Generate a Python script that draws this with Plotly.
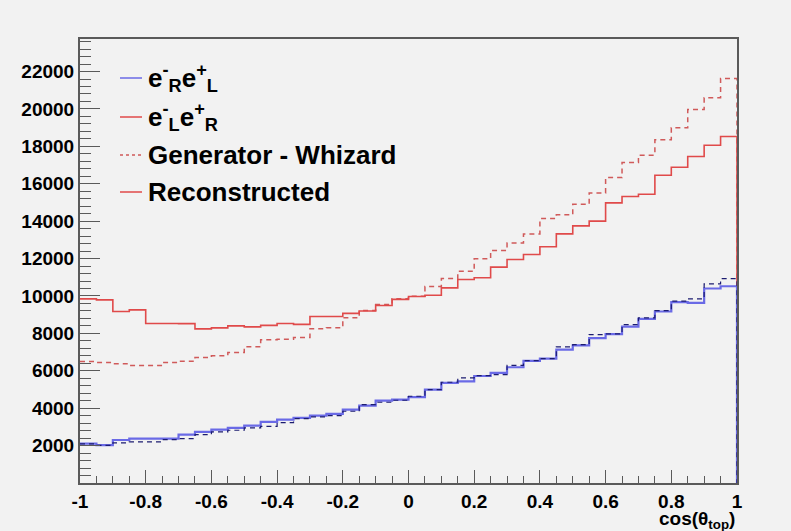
import plotly.graph_objects as go

# Histogram binning: 40 bins over cos(theta_top) in [-1, 1]
bin_low = -1.0
bin_width = 0.05
n_bins = 40

# e-_R e+_L : reconstructed (solid blue) and generator/Whizard (dashed dark blue)
reco_RL = [2100, 2030, 2300, 2370, 2370, 2370, 2588, 2731, 2856, 2945,
           3070, 3265, 3390, 3480, 3600, 3700, 3925, 4139, 4407, 4460,
           4595, 4995, 5351, 5430, 5720, 5890, 6190, 6530, 6645, 7134,
           7355, 7750, 7955, 8365, 8775, 9170, 9675, 9630, 10400, 10520]
gen_RL = [2090, 2010, 2144, 2198, 2198, 2321, 2375, 2588, 2731, 2820,
          2945, 3030, 3230, 3444, 3533, 3604, 3836, 4193, 4318, 4425,
          4638, 4995, 5386, 5620, 5744, 5797, 6290, 6545, 6653, 7277,
          7400, 7937, 7973, 8470, 8830, 9220, 9720, 9845, 10647, 10930]

# e-_L e+_R : reconstructed (solid red) and generator/Whizard (dashed red)
reco_LR = [9846, 9790, 9166, 9257, 8525, 8525, 8520, 8240, 8295, 8400,
           8350, 8430, 8525, 8480, 8900, 8900, 9070, 9200, 9490, 9820,
           9970, 10040, 10432, 10878, 10975, 11545, 11947, 12215, 12630, 13320,
           13750, 14000, 14980, 15316, 15440, 16456, 16884, 17456, 18060, 18526]
gen_LR = [6490, 6440, 6370, 6280, 6280, 6440, 6510, 6710, 6800, 6975,
          7280, 7660, 7680, 7780, 8250, 8300, 8830, 9220, 9540, 9850,
          9990, 10500, 10930, 11320, 11985, 12430, 12830, 13320, 14140, 14340,
          14905, 15510, 16330, 17135, 17530, 18350, 18990, 19970, 20600, 21630]

x_tickvals = [-1, -0.8, -0.6, -0.4, -0.2, 0, 0.2, 0.4, 0.6, 0.8, 1]
x_ticktext = ["-1", "-0.8", "-0.6", "-0.4", "-0.2", "0", "0.2", "0.4", "0.6", "0.8", "1"]
y_tickvals = [2000, 4000, 6000, 8000, 10000, 12000, 14000, 16000, 18000, 20000, 22000]
y_ticktext = [str(v) for v in y_tickvals]

legend_labels = ["e<sup>-</sup><sub>R</sub>e<sup>+</sup><sub>L</sub>",
                 "e<sup>-</sup><sub>L</sub>e<sup>+</sup><sub>R</sub>",
                 "Generator - Whizard",
                 "Reconstructed"]

RED = "#e04a4a"
RED_D = "#d05a5a"
BLUE = "#6a6ae6"
NAVY = "#1c1c70"
BG = "#f2f2f2"
AX = "#5a5a5a"
FONT = "Liberation Sans, Arial, Helvetica, sans-serif"

W, H = 791, 531
ML, MR, MT, MB = 80, 54, 39, 48
PW, PH = W - ML - MR, H - MT - MB

edges = [bin_low + i * bin_width for i in range(n_bins + 1)]


def step_xy(values):
    xs = list(edges) + [edges[-1]]
    ys = list(values) + [values[-1], 0]
    return xs, ys


fig = go.Figure()


def add_hist(values, color, width, dash):
    xs, ys = step_xy(values)
    fig.add_trace(go.Scatter(x=xs, y=ys, mode="lines", line_shape="hv",
                             line=dict(color=color, width=width, dash=dash),
                             showlegend=False, hoverinfo="skip"))


add_hist(gen_LR, RED_D, 1.5, "5px,4px")
add_hist(reco_LR, RED, 1.6, "solid")
add_hist(reco_RL, BLUE, 2.2, "solid")
add_hist(gen_RL, NAVY, 1.2, "5px,4px")


def px_x(p):
    return (p - ML) / PW


def px_y(p):
    return (H - MB - p) / PH


# ROOT-style legend, drawn as line samples + texts
legend_rows_px = [78, 117, 155, 192]
legend_styles = [(BLUE, "solid"), (RED, "solid"), (RED_D, "dot"), (RED, "solid")]
shapes = []
annotations = []
for label, (c, d), ry in zip(legend_labels, legend_styles, legend_rows_px):
    shapes.append(dict(type="line", xref="paper", yref="paper",
                       x0=px_x(120), x1=px_x(142), y0=px_y(ry), y1=px_y(ry),
                       line=dict(color=c, width=1.5, dash=d)))
    annotations.append(dict(text=label, xref="paper", yref="paper",
                            x=px_x(146), y=px_y(ry), xanchor="left", yanchor="middle",
                            showarrow=False,
                            font=dict(size=26, family=FONT, color="black", weight="bold")))

annotations.append(dict(text="cos(θ<sub>top</sub>)", xref="paper", yref="paper",
                        x=1.0, y=px_y(520), xanchor="right", yanchor="middle", showarrow=False,
                        font=dict(size=19, family=FONT, color="black", weight="bold")))

fig.update_layout(
    width=W, height=H,
    paper_bgcolor=BG, plot_bgcolor=BG,
    margin=dict(l=ML, r=MR, t=MT, b=MB),
    font=dict(family=FONT, color="black"),
    showlegend=False,
    xaxis=dict(range=[-1, 1], tickmode="array", tickvals=x_tickvals, ticktext=x_ticktext,
               ticks="inside", ticklen=13, tickwidth=1.2, tickcolor=AX,
               minor=dict(ticks="inside", ticklen=7, dtick=0.05, tickwidth=1.2, tickcolor=AX),
               showline=True, linecolor=AX, linewidth=2, mirror=True,
               showgrid=False, zeroline=False,
               tickfont=dict(size=19, family=FONT, color="black", weight="bold")),
    yaxis=dict(range=[0, 23740], tickmode="array", tickvals=y_tickvals, ticktext=y_ticktext,
               ticks="inside", ticklen=20, tickwidth=1.2, tickcolor=AX,
               minor=dict(ticks="inside", ticklen=11, dtick=400, tickwidth=1.2, tickcolor=AX),
               showline=True, linecolor=AX, linewidth=2, mirror=True,
               showgrid=False, zeroline=False,
               tickfont=dict(size=19, family=FONT, color="black", weight="bold")),
    shapes=shapes,
    annotations=annotations,
)

fig.write_html("out.html")
